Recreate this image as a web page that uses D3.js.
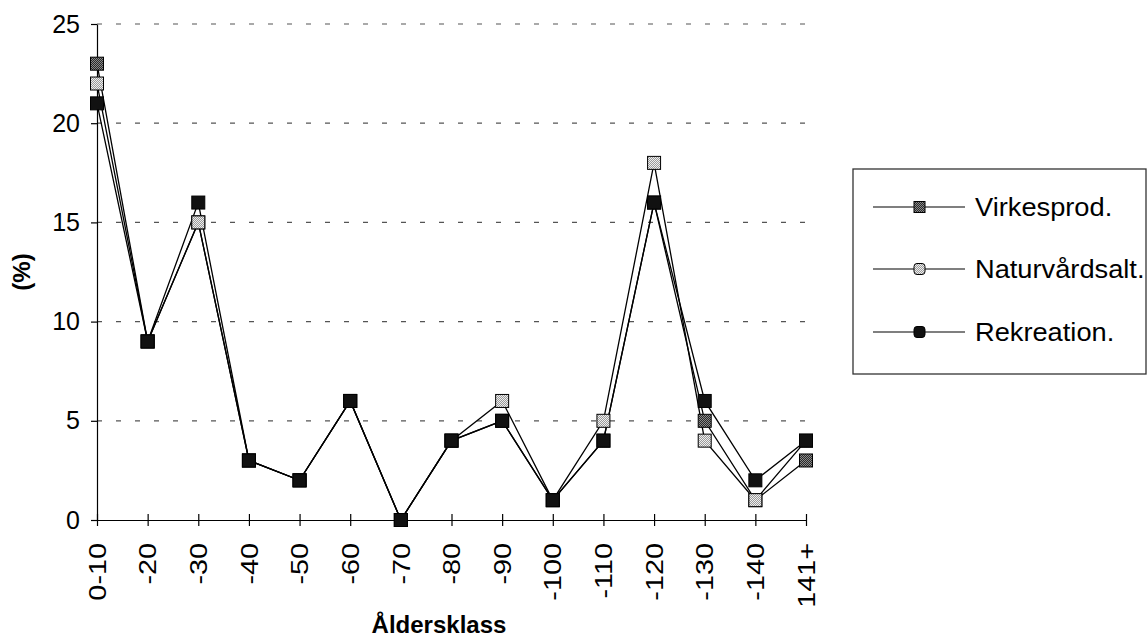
<!DOCTYPE html>
<html><head><meta charset="utf-8">
<script src="https://cdn.jsdelivr.net/npm/d3@7"></script>
<style>body{margin:0;background:#fff}svg{display:block}text{font-family:"Liberation Sans",Arial,sans-serif;fill:#000}</style>
</head><body>
<svg id="c" width="1148" height="641"></svg>
<script>
const categories = ["0-10","-20","-30","-40","-50","-60","-70","-80","-90","-100","-110","-120","-130","-140","141+"];
const virkesprod   = [23, 9, 15, 3, 2, 6, 0, 4, 5, 1, 4, 16, 5, 1, 3];
const naturvardsalt= [22, 9, 15, 3, 2, 6, 0, 4, 6, 1, 5, 18, 4, 1, 4];
const rekreation   = [21, 9, 16, 3, 2, 6, 0, 4, 5, 1, 4, 16, 6, 2, 4];
const seriesNames = ["Virkesprod.","Naturvårdsalt.","Rekreation."];
const yTicks = [0,5,10,15,20,25];

const series = [
  {name: seriesNames[0], values: virkesprod, fill: "url(#pDark)"},
  {name: seriesNames[1], values: naturvardsalt, fill: "url(#pLight)"},
  {name: seriesNames[2], values: rekreation, fill: "#111"}
];

const svg = d3.select("#c");
const defs = svg.append("defs");
function checker(id, a, b){
  const p = defs.append("pattern").attr("id", id).attr("width", 2).attr("height", 2)
    .attr("patternUnits", "userSpaceOnUse");
  p.append("rect").attr("width", 2).attr("height", 2).attr("fill", a);
  p.append("rect").attr("width", 1).attr("height", 1).attr("fill", b);
  p.append("rect").attr("x", 1).attr("y", 1).attr("width", 1).attr("height", 1).attr("fill", b);
}
checker("pDark", "#2a2a2a", "#8a8a8a");
checker("pLight", "#9a9a9a", "#eeeeee");

const x = d3.scalePoint().domain(categories).range([97, 806]);
const y = d3.scaleLinear().domain([0, 25]).range([520, 24]);

// gridlines
svg.append("g").selectAll("line").data(yTicks.filter(d => d > 0)).join("line")
  .attr("x1", 97).attr("x2", 806).attr("y1", d => y(d)).attr("y2", d => y(d))
  .attr("stroke", "#555").attr("stroke-width", 1.2).attr("stroke-dasharray", "5,14");

// y axis
const yAxis = svg.append("g").attr("transform", "translate(97,0)")
  .call(d3.axisLeft(y).tickValues(yTicks).tickSize(6).tickSizeOuter(0).tickPadding(11));
yAxis.select(".domain").attr("stroke", "#000").attr("stroke-width", 1.2);
yAxis.selectAll(".tick line").attr("stroke", "#000").attr("stroke-width", 1.2);
yAxis.selectAll(".tick text").attr("font-size", 25).style("font-family", '"Liberation Sans",Arial,sans-serif');

// x axis
const xAxis = svg.append("g").attr("transform", "translate(0,520)")
  .call(d3.axisBottom(x).tickSize(6).tickSizeOuter(0).tickFormat(""));
xAxis.select(".domain").attr("stroke", "#000").attr("stroke-width", 1.2);
xAxis.selectAll(".tick line").attr("y1", -6).attr("y2", 6).attr("stroke", "#000").attr("stroke-width", 1.2);
svg.append("g").selectAll("text").data(categories).join("text")
  .attr("transform", d => `translate(${x(d)},543) rotate(-90) scale(1.2,1)`)
  .attr("text-anchor", "end").attr("dy", "0.36em").attr("font-size", 24)
  .text(d => d);

// lines
const line = d3.line().x((d, i) => x(categories[i])).y(d => y(d));
svg.append("g").selectAll("path").data(series).join("path")
  .attr("d", s => line(s.values)).attr("fill", "none").attr("stroke", "#000").attr("stroke-width", 1.3);

// markers
series.forEach(s => {
  svg.append("g").selectAll("rect").data(s.values).join("rect")
    .attr("x", (d, i) => x(categories[i]) - 6.5).attr("y", d => y(d) - 6.5)
    .attr("width", 13).attr("height", 13)
    .attr("fill", s.fill).attr("stroke", "#000").attr("stroke-width", 1);
});

// axis titles
svg.append("text").attr("x", 439).attr("y", 633).attr("text-anchor", "middle")
  .attr("font-size", 24).attr("font-weight", "bold").text("Åldersklass");
svg.append("text").attr("transform", "translate(30,272) rotate(-90)").attr("text-anchor", "middle")
  .attr("font-size", 24).attr("font-weight", "bold").text("(%)");

// legend
const lg = svg.append("g");
lg.append("rect").attr("x", 853).attr("y", 169).attr("width", 293).attr("height", 205)
  .attr("fill", "#fff").attr("stroke", "#333").attr("stroke-width", 1.3);
const ly = [207, 269, 332];
series.forEach((s, i) => {
  lg.append("line").attr("x1", 873).attr("x2", 965).attr("y1", ly[i]).attr("y2", ly[i])
    .attr("stroke", "#000").attr("stroke-width", 1.2);
  lg.append("rect").attr("x", 914).attr("y", ly[i] - 5.5).attr("width", 11).attr("height", 11)
    .attr("rx", i === 0 ? 0 : 3)
    .attr("fill", s.fill).attr("stroke", "#000").attr("stroke-width", 1);
  lg.append("text").attr("transform", `translate(975,${ly[i]}) scale(1.09,1)`)
    .attr("dy", "0.36em").attr("font-size", 25).text(s.name);
});
</script>
</body></html>
